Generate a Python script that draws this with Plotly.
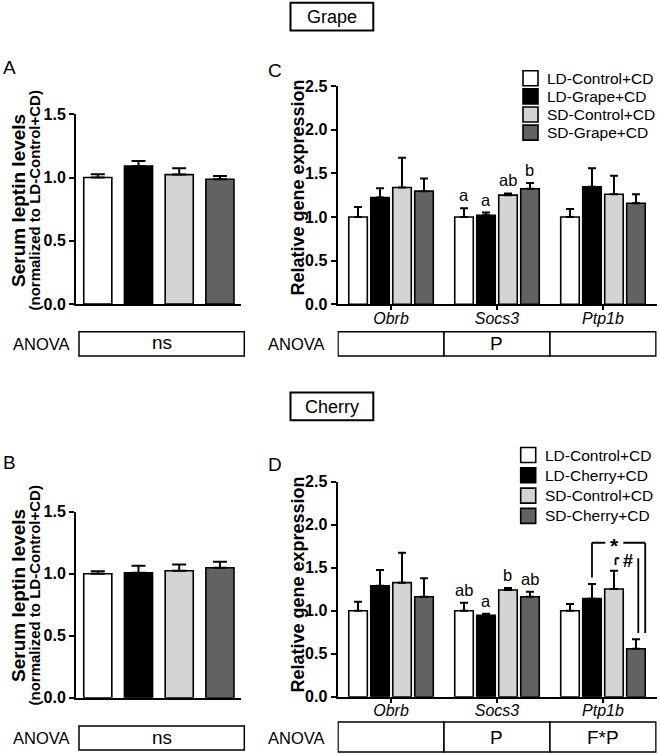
import plotly.graph_objects as go

# ---------------- data ----------------
genes = ["Obrb", "Socs3", "Ptp1b"]
groups_grape = ["LD-Control+CD", "LD-Grape+CD", "SD-Control+CD", "SD-Grape+CD"]
groups_cherry = ["LD-Control+CD", "LD-Cherry+CD", "SD-Control+CD", "SD-Cherry+CD"]
bar_colors = ["#ffffff", "#000000", "#d4d4d4", "#626262"]

leptin_grape = [1.00, 1.09, 1.023, 0.986]
leptin_grape_sem = [0.025, 0.04, 0.05, 0.026]
leptin_cherry = [1.00, 1.008, 1.024, 1.048]
leptin_cherry_sem = [0.02, 0.057, 0.051, 0.049]

# rows = diet groups, columns = genes (Obrb, Socs3, Ptp1b)
expr_grape = [[1.00, 1.00, 1.00],
              [1.223, 1.02, 1.346],
              [1.338, 1.25, 1.26],
              [1.296, 1.323, 1.158]]
expr_grape_sem = [[0.115, 0.10, 0.09],
                  [0.107, 0.03, 0.212],
                  [0.339, 0.02, 0.213],
                  [0.144, 0.067, 0.102]]
expr_cherry = [[1.00, 1.00, 1.00],
               [1.29, 0.946, 1.14],
               [1.326, 1.24, 1.252],
               [1.163, 1.163, 0.558]]
expr_cherry_sem = [[0.105, 0.093, 0.078],
                   [0.183, 0.019, 0.17],
                   [0.348, 0.024, 0.213],
                   [0.213, 0.058, 0.109]]

letters_grape = {"Socs3": ["a", "a", "ab", "b"]}
letters_cherry = {"Socs3": ["ab", "a", "b", "ab"]}
anova_leptin_grape = "ns"
anova_leptin_cherry = "ns"
anova_expr_grape = ["", "P", ""]
anova_expr_cherry = ["", "P", "F*P"]

leptin_ticks = [0.0, 0.5, 1.0, 1.5]
expr_ticks = [0.0, 0.5, 1.0, 1.5, 2.0, 2.5]

# ---------------- layout helpers ----------------
W, H = 660, 754
FONT = "Liberation Sans, Arial, Helvetica, sans-serif"


def px(x):
    return x / W


def py(y):
    return 1 - y / H


STEP = 0.2075      # offset between bars inside a gene group
BW = 0.175         # bar width in gene-group units


def pos(g, i):
    return g + (i - 1.5) * STEP


fig = go.Figure()

# ---- leptin panels (A, B) ----
for vals, sem, xa, ya in [(leptin_grape, leptin_grape_sem, "x", "y"),
                          (leptin_cherry, leptin_cherry_sem, "x3", "y3")]:
    fig.add_trace(go.Bar(
        x=list(range(len(vals))), y=vals, width=0.69,
        marker=dict(color=bar_colors, line=dict(color="black", width=1.6)),
        error_y=dict(type="data", array=sem, arrayminus=[0] * len(sem),
                     symmetric=False, color="black", thickness=2, width=7),
        xaxis=xa, yaxis=ya, showlegend=False, hoverinfo="skip"))

# ---- gene expression panels (C, D) ----
for vals, sem, names, xa, ya in [(expr_grape, expr_grape_sem, groups_grape, "x2", "y2"),
                                 (expr_cherry, expr_cherry_sem, groups_cherry, "x4", "y4")]:
    for i, name in enumerate(names):
        fig.add_trace(go.Bar(
            x=[pos(g, i) for g in range(len(genes))], y=vals[i], width=BW,
            name=name,
            marker=dict(color=bar_colors[i], line=dict(color="black", width=1.6)),
            error_y=dict(type="data", array=sem[i], arrayminus=[0] * len(genes),
                         symmetric=False, color="black", thickness=2, width=4),
            xaxis=xa, yaxis=ya, showlegend=False, hoverinfo="skip"))

shapes = []
annotations = []

# ---- axes ----
common_y = dict(showline=True, linewidth=2, linecolor="black", ticks="outside",
                ticklen=5, tickwidth=2, tickcolor="black", showgrid=False,
                zeroline=False, tickformat=".1f", automargin=False,
                tickfont=dict(family=FONT, size=16, color="black", weight="bold"))
lep_x = dict(domain=[px(76), px(240.7)], range=[-0.535, 3.51], showline=True,
             linewidth=2, linecolor="black", showticklabels=False, ticks="",
             showgrid=False, zeroline=False, automargin=False)
exp_x = dict(domain=[px(337.5), px(656.7)], range=[-0.505, 2.507], showline=True,
             linewidth=2, linecolor="black", ticks="outside", ticklen=4,
             tickwidth=2, tickcolor="black", showgrid=False, zeroline=False,
             automargin=False, ticklabelstandoff=-6,
             tickvals=list(range(len(genes))),
             ticktext=["<i>%s</i>" % g for g in genes],
             tickfont=dict(family=FONT, size=16, color="black"))

fig.update_layout(
    xaxis=dict(lep_x, anchor="y"),
    yaxis=dict(common_y, domain=[py(304), py(114.3)], range=[0, 1.5],
               tickvals=leptin_ticks, anchor="x"),
    xaxis3=dict(lep_x, anchor="y3"),
    yaxis3=dict(common_y, domain=[py(697.7), py(511.7)], range=[0, 1.5],
                tickvals=leptin_ticks, anchor="x3"),
    xaxis2=dict(exp_x, anchor="y2"),
    yaxis2=dict(common_y, domain=[py(304.3), py(86)], range=[0, 2.5],
                tickvals=expr_ticks, anchor="x2"),
    xaxis4=dict(exp_x, anchor="y4"),
    yaxis4=dict(common_y, domain=[py(696.7), py(481.7)], range=[0, 2.5],
                tickvals=expr_ticks, anchor="x4"),
)


def text(x, y, t, size, xref="paper", yref="paper", bold=False, italic=False,
         xanchor="center", yanchor="middle", angle=0, **kw):
    if italic:
        t = "<i>%s</i>" % t
    annotations.append(dict(
        x=x, y=y, xref=xref, yref=yref, text=t, showarrow=False,
        xanchor=xanchor, yanchor=yanchor, textangle=angle,
        font=dict(family=FONT, size=size, color="black",
                  weight="bold" if bold else "normal"), **kw))


def rect(x0, y0, x1, y1, xref="paper", yref="paper", lw=1.5, fill="white"):
    shapes.append(dict(type="rect", x0=x0, y0=y0, x1=x1, y1=y1, xref=xref,
                       yref=yref, line=dict(color="black", width=lw),
                       fillcolor=fill, layer="below"))


def line(x0, y0, x1, y1, xref, yref, lw=1.8):
    shapes.append(dict(type="line", x0=x0, y0=y0, x1=x1, y1=y1, xref=xref,
                       yref=yref, line=dict(color="black", width=lw)))


# ---- section boxes ----
for label, top in [("Grape", 2.7), ("Cherry", 392.5)]:
    rect(px(290.5), py(top), px(373.3), py(top + 27.8), lw=2)
    text(px(331.9), py(top + 14), label, 18)

# ---- panel letters ----
for letter, x, y in [("A", 9, 68), ("B", 9, 462), ("C", 275, 70), ("D", 275, 464)]:
    text(px(x), py(y), letter, 19)

# ---- y-axis titles ----
for cy in [201, 596]:
    text(px(18), py(cy), "Serum leptin levels", 19, bold=True, angle=-90)
    text(px(33.5), py(cy), "(normalized to LD-Control+CD)", 15, bold=True, angle=-90)
for cy in [188, 585]:
    text(px(297.5), py(cy), "Relative gene expression", 18, bold=True, angle=-90)

# ---- ANOVA rows ----
for (y0, y1), lab_lep in [((331.7, 356), anova_leptin_grape),
                          ((726, 750), anova_leptin_cherry)]:
    ymid = (y0 + y1) / 2
    text(px(41), py(ymid), "ANOVA", 16.5)
    text(px(296), py(ymid), "ANOVA", 16.5)
    rect(px(79), py(y1), px(244.3), py(y0))
    text(px(161.6), py(ymid - 1), lab_lep, 19)
for (y0, y1), labs, xa in [((331.7, 356), anova_expr_grape, "x2"),
                           ((722, 752), anova_expr_cherry, "x4")]:
    ymid = (y0 + y1) / 2
    for g, lab in enumerate(labs):
        rect(g - 0.5, py(y1), g + 0.5, py(y0), xref=xa)
        if lab:
            text(g, py(ymid), lab, 19, xref=xa)

# ---- letters above bars ----
for vals, sem, letters, xa, ya in [(expr_grape, expr_grape_sem, letters_grape, "x2", "y2"),
                                   (expr_cherry, expr_cherry_sem, letters_cherry, "x4", "y4")]:
    for gene, labs in letters.items():
        g = genes.index(gene)
        for i, lab in enumerate(labs):
            text(pos(g, i), vals[i][g] + sem[i][g], lab, 16.5, xref=xa, yref=ya,
                 yanchor="bottom", yshift=2)

# ---- manual legends ----
for names, sq_x, text_x, row0, dy in [(groups_grape, 523, 545, 78.3, 18.1),
                                      (groups_cherry, 520.7, 543, 455, 20.3)]:
    for i, name in enumerate(names):
        cy = row0 + i * dy
        shapes.append(dict(type="rect", xref="paper", yref="paper",
                           x0=px(sq_x), x1=px(sq_x + 15), y0=py(cy + 7.5), y1=py(cy - 7.5),
                           line=dict(color="black", width=1.6), fillcolor=bar_colors[i]))
        text(px(text_x), py(cy), name, 15.5, xanchor="left")

# ---- significance brackets (panel D, Ptp1b) ----
g = genes.index("Ptp1b")
top = [expr_cherry[i][g] + expr_cherry_sem[i][g] for i in range(4)]
gap = 0.075
y_star, y_hash = 1.79, 1.61
x_left = pos(g, 1)
x_right = pos(g, 3) + BW / 2
x_star = (x_left + x_right) / 2 - 0.04
half_gap = 0.085
line(x_left, top[1] + gap, x_left, y_star, "x4", "y4")
line(x_left, y_star, x_star - half_gap, y_star, "x4", "y4")
line(x_star + half_gap, y_star, x_right, y_star, "x4", "y4")
line(x_right, y_star, x_right, top[3] + gap, "x4", "y4")
text(x_star, y_star, "*", 21, xref="x4", yref="y4", yshift=-3, bold=True)
x_h = pos(g, 2) + 0.015
x_hr = pos(g, 3) + 0.022
line(x_h, top[2] + gap - 0.01, x_h, y_hash, "x4", "y4")
line(x_h, y_hash, x_h + 0.035, y_hash, "x4", "y4")
line(x_hr, y_hash, x_hr, top[3] + gap, "x4", "y4")
text((x_h + x_hr) / 2 + 0.01, y_hash - 0.03, "#", 18, xref="x4", yref="y4", bold=True)

fig.update_layout(
    width=W, height=H, margin=dict(l=0, r=0, t=0, b=0, pad=0, autoexpand=False),
    paper_bgcolor="white", plot_bgcolor="white", showlegend=False,
    barmode="overlay", shapes=shapes, annotations=annotations,
    font=dict(family=FONT, color="black"),
)

fig.write_html(
    "out.html",
    config={"displayModeBar": False, "responsive": False},
    post_script="document.body.style.margin='0px';document.body.style.padding='0px';"
                "document.documentElement.style.overflow='hidden';",
)
